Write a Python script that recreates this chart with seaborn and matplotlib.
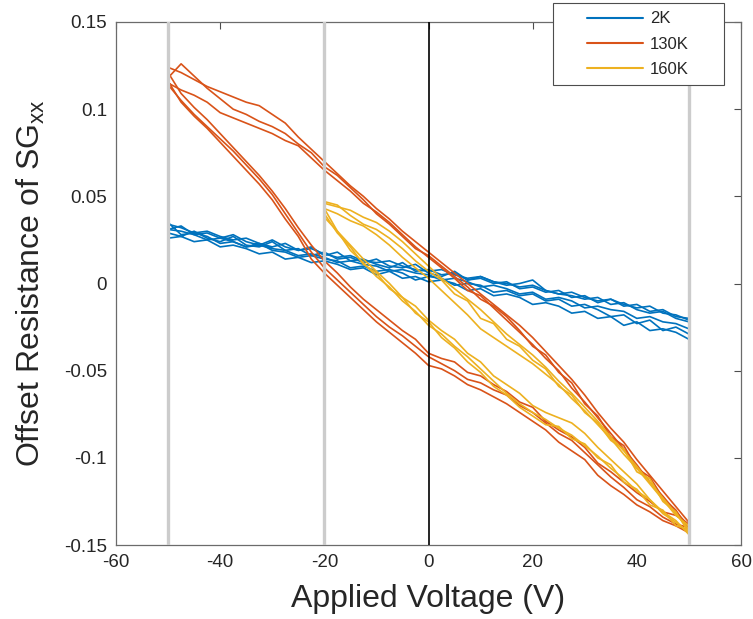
import numpy as np
import pandas as pd
import matplotlib
matplotlib.use("Agg")
import matplotlib.pyplot as plt
import matplotlib.ticker as mticker
import seaborn as sns
from matplotlib.lines import Line2D
from matplotlib.legend_handler import HandlerLine2D

# ---------------- data (resistance values in thousandths) ----------------
V_FULL_UP = [-50, -47.5, -45, -42.5, -40, -37.5, -35, -32.5, -30, -27.5,
             -25, -22.5, -20, -17.5, -15, -12.5, -10, -7.5, -5, -2.5,
             0, 2.5, 5, 7.5, 10, 12.5, 15, 17.5, 20, 22.5,
             25, 27.5, 30, 32.5, 35, 37.5, 40, 42.5, 45, 47.5,
             50]
V_FULL_DOWN = V_FULL_UP[::-1]
V_PART_UP = [-20, -17.5, -15, -12.5, -10, -7.5, -5, -2.5, 0, 2.5,
             5, 7.5, 10, 12.5, 15, 17.5, 20, 22.5, 25, 27.5,
             30, 32.5, 35, 37.5, 40, 42.5, 45, 47.5, 50]
V_PART_DOWN = V_PART_UP[::-1]

# 2K
B1_UP = [34, 32, 29, 30, 27, 25, 26, 23, 21, 23,
         19, 20, 17, 15, 16, 13, 12, 13, 10, 8,
         7, 8, 5, 3, 4, 1, 0, -2, -1, -4,
         -6, -5, -8, -10, -9, -12, -14, -13, -17, -18,
         -21]
B1_DN = [-26, -23, -22, -19, -20, -16, -15, -13, -14, -10,
         -8, -9, -5, -6, -3, -1, -2, 1, 3, 2,
         5, 6, 8, 7, 10, 11, 13, 12, 15, 17,
         16, 19, 20, 22, 21, 24, 26, 25, 28, 30,
         31]
B2_UP = [29, 27, 30, 26, 24, 27, 22, 21, 24, 19,
         20, 16, 18, 14, 15, 12, 14, 10, 9, 11,
         6, 4, 7, 2, 3, 0, 1, -3, -2, -5,
         -4, -8, -7, -11, -9, -13, -12, -16, -15, -19,
         -20]
B2_DN = [-32, -28, -26, -27, -22, -24, -19, -20, -16, -17,
         -13, -11, -12, -8, -6, -7, -3, -4, 0, 2,
         1, 4, 3, 7, 5, 9, 8, 11, 13, 12,
         15, 14, 18, 17, 20, 22, 21, 25, 24, 27,
         26]
B3_UP = [31, 33, 28, 29, 26, 28, 24, 22, 25, 21,
         19, 21, 16, 18, 13, 14, 11, 9, 12, 7,
         8, 5, 6, 2, 4, 1, -1, 0, 2, -4,
         -6, -7, -9, -8, -12, -11, -15, -17, -16, -20,
         -22]
B3_DN = [-29, -25, -27, -21, -23, -18, -19, -15, -12, -13,
         -9, -10, -6, -7, -4, -5, -1, 0, -1, 3,
         4, 2, 6, 8, 7, 10, 9, 13, 14, 16,
         15, 18, 19, 23, 21, 24, 23, 27, 29, 28,
         35]

# 130K
O1_UP = [124, 121, 117, 113, 110, 107, 104, 102, 97, 92,
         84, 77, 70, 63, 56, 50, 43, 37, 30, 24,
         18, 12, 6, 0, -6, -12, -18, -24, -31, -39,
         -47, -55, -64, -74, -83, -91, -101, -110, -119, -128,
         -137]
O1_DN = [-140, -138, -134, -128, -124, -117, -111, -104, -97, -90,
         -86, -80, -74, -70, -64, -61, -57, -55, -50, -46,
         -42, -36, -30, -25, -19, -12, -5, 2, 9, 18,
         29, 40, 51, 60, 68, 76, 83, 90, 97, 105,
         114]
O2_UP = [115, 111, 108, 104, 98, 95, 92, 89, 86, 82,
         79, 72, 65, 59, 53, 46, 41, 35, 28, 21,
         15, 9, 3, -4, -7, -14, -21, -28, -35, -43,
         -50, -60, -68, -77, -86, -95, -104, -114, -122, -131,
         -139]
O2_DN = [-143, -139, -136, -131, -127, -121, -116, -110, -101, -96,
         -91, -84, -79, -74, -69, -65, -61, -58, -53, -49,
         -47, -40, -34, -28, -22, -15, -8, -1, 6, 14,
         27, 37, 48, 57, 65, 73, 81, 89, 96, 104,
         116]
O3_UP = [118, 126, 119, 112, 106, 100, 97, 93, 90, 86,
         80, 75, 67, 62, 55, 48, 40, 34, 27, 20,
         16, 10, 4, -2, -9, -13, -19, -27, -36, -41,
         -51, -57, -69, -76, -88, -93, -106, -111, -123, -130,
         -141]
O3_DN = [-138, -133, -131, -125, -120, -114, -108, -103, -94, -88,
         -84, -79, -71, -68, -62, -58, -53, -51, -45, -43,
         -40, -32, -27, -21, -15, -9, -2, 6, 13, 22,
         32, 43, 53, 62, 70, 78, 86, 94, 101, 109,
         121]

# 160K
Y1_UP = [46, 44, 42, 38, 35, 30, 24, 17, 10, 3,
         -3, -9, -15, -22, -29, -35, -41, -48, -56, -63,
         -71, -79, -88, -96, -105, -114, -123, -132, -141]
Y1_DN = [-143, -137, -132, -124, -119, -112, -106, -99, -93, -87,
         -83, -78, -74, -69, -63, -56, -49, -42, -36, -29,
         -24, -16, -10, -2, 4, 12, 19, 30, 43]
Y2_UP = [43, 40, 36, 33, 28, 22, 15, 9, 3, -4,
         -11, -18, -26, -31, -36, -41, -46, -52, -58, -66,
         -73, -81, -89, -98, -106, -115, -124, -133, -139]
Y2_DN = [-141, -139, -130, -127, -118, -114, -104, -100, -92, -89,
         -82, -81, -76, -71, -64, -59, -51, -45, -37, -31,
         -22, -17, -8, -3, 6, 11, 21, 29, 40]
Y3_UP = [47, 45, 39, 34, 31, 26, 20, 13, 7, 2,
         -6, -10, -20, -23, -32, -36, -44, -49, -59, -64,
         -74, -80, -90, -95, -108, -112, -125, -131, -143]
Y3_DN = [-144, -136, -131, -124, -115, -108, -101, -94, -86, -80,
         -77, -74, -70, -63, -58, -53, -45, -40, -32, -27,
         -21, -13, -8, 0, 7, 14, 22, 30, 38]

SERIES = ["2K", "130K", "160K"]
COLORS = ["#0072BD", "#D95319", "#EDB120"]
X_TICKS = [-60, -40, -20, 0, 20, 40, 60]
Y_TICKS = [-0.15, -0.1, -0.05, 0, 0.05, 0.1, 0.15]
GRAY_LINES = [-50, -20, 50]
BLACK_LINE = [0]

# ---------------- build long table ----------------
groups = [
    ("2K", V_FULL_UP, V_FULL_DOWN, [(B1_UP, B1_DN), (B2_UP, B2_DN), (B3_UP, B3_DN)]),
    ("130K", V_FULL_UP, V_FULL_DOWN, [(O1_UP, O1_DN), (O2_UP, O2_DN), (O3_UP, O3_DN)]),
    ("160K", V_PART_UP, V_PART_DOWN, [(Y1_UP, Y1_DN), (Y2_UP, Y2_DN), (Y3_UP, Y3_DN)]),
]
rows = []
for temp, vup, vdn, loops in groups:
    for i, (up, dn) in enumerate(loops):
        assert len(up) == len(vup) and len(dn) == len(vdn)
        unit = f"{temp}_{i}"
        for k, (v, r) in enumerate(zip(list(vup) + list(vdn), list(up) + list(dn))):
            rows.append((temp, unit, k, v, r / 1000.0))
df = pd.DataFrame(rows, columns=["T", "loop", "order", "V", "R"])

# ---------------- style ----------------
sns.set_style("white")
plt.rcParams["font.family"] = ["Liberation Sans", "DejaVu Sans"]
plt.rcParams["mathtext.default"] = "regular"
plt.rcParams["axes.unicode_minus"] = False

fig = plt.figure(figsize=(7.53, 6.19), dpi=100)
ax = fig.add_axes([116 / 753, 1 - 545 / 619, (741 - 116) / 753, (545 - 22) / 619])

sns.lineplot(data=df, x="V", y="R", hue="T", units="loop", estimator=None,
             sort=False, palette=dict(zip(SERIES, COLORS)), hue_order=SERIES,
             linewidth=1.2, legend=False, ax=ax)

for xv in GRAY_LINES:
    ax.axvline(xv, color="#cccccc", lw=2.4, zorder=3)
for xv in BLACK_LINE:
    ax.axvline(xv, color="black", lw=1.2, zorder=4)

ax.set_xlim(-60, 60)
ax.set_ylim(-0.15, 0.15)
ax.set_xticks(X_TICKS)
ax.set_yticks(Y_TICKS)
ax.xaxis.set_major_formatter(mticker.FuncFormatter(lambda v, p: f"{v:g}"))
ax.yaxis.set_major_formatter(mticker.FuncFormatter(lambda v, p: f"{v:g}"))
ax.tick_params(direction="in", top=True, right=True, length=5, width=0.8,
               color="#4d4d4d", labelcolor="#262626", labelsize=13.5, pad=6.5)
for sp in ax.spines.values():
    sp.set_color("#6b6b6b")
    sp.set_linewidth(0.9)

ax.set_xlabel("Applied Voltage (V)", fontsize=23, color="#262626", labelpad=9)
ax.set_ylabel("Offset Resistance of SG$_{xx}$", fontsize=23, color="#262626", labelpad=12)

handles = [Line2D([0], [0], color=c, lw=1.5) for c in COLORS]
leg = ax.legend(handles, SERIES, loc="upper left",
                bbox_to_anchor=(553 / 753, 1 - 82 / 619, 171 / 753, 79 / 619),
                bbox_transform=fig.transFigure, mode="expand", borderaxespad=0,
                fontsize=12, frameon=True, fancybox=False, framealpha=1,
                edgecolor="#4d4d4d", handlelength=4.9, handletextpad=0.42,
                labelspacing=0.62, borderpad=0.5,
                handler_map={Line2D: HandlerLine2D(xpad=1.55)})
leg.get_frame().set_linewidth(0.8)
leg.set_zorder(10)

fig.savefig("out.png", dpi=100)
